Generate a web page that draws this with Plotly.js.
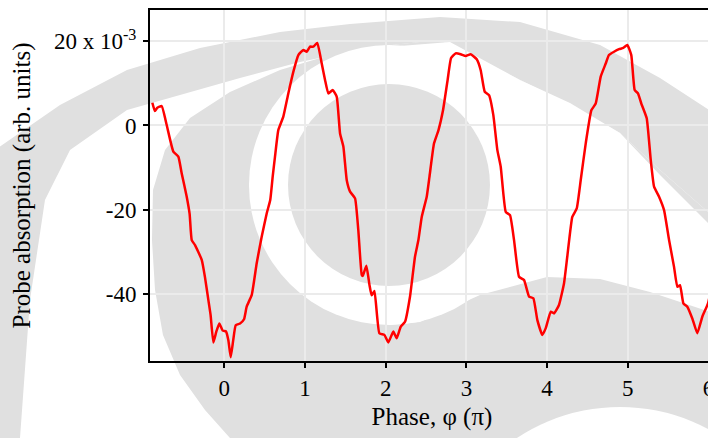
<!DOCTYPE html>
<html>
<head>
<meta charset="utf-8">
<script src="https://cdn.plot.ly/plotly-3.0.1.min.js"></script>
<style>
html,body{margin:0;padding:0;background:#fff;overflow:hidden;width:708px;height:438px;}
#chart{width:734px;height:438px;}
</style>
</head>
<body>
<div id="chart"></div>
<script>
// ---- data ----
const phase = [-0.892,-0.86,-0.83,-0.776,-0.714,-0.632,-0.57,-0.528,-0.466,-0.43,-0.404,-0.363,-0.28,-0.24,-0.198,-0.17,-0.136,-0.1,-0.062,-0.02,0.021,0.05,0.079,0.11,0.141,0.195,0.244,0.277,0.34,0.401,0.463,0.525,0.569,0.6,0.628,0.669,0.731,0.793,0.855,0.917,0.979,1.021,1.062,1.103,1.152,1.207,1.248,1.289,1.343,1.393,1.434,1.475,1.517,1.558,1.62,1.66,1.703,1.715,1.76,1.80,1.825,1.86,1.921,1.983,2.032,2.094,2.136,2.185,2.239,2.301,2.363,2.405,2.446,2.508,2.542,2.598,2.654,2.71,2.767,2.81,2.867,2.929,2.991,3.053,3.128,3.177,3.227,3.28,3.333,3.383,3.425,3.487,3.54,3.59,3.652,3.714,3.776,3.829,3.879,3.941,3.983,4.045,4.086,4.147,4.209,4.25,4.312,4.367,4.416,4.478,4.548,4.602,4.664,4.726,4.766,4.829,4.891,4.944,4.994,5.043,5.085,5.126,5.167,5.234,5.284,5.325,5.387,5.449,5.511,5.572,5.614,5.647,5.688,5.737,5.799,5.861,5.923,5.994,6.04];
const absorption = [5.4,3.4,4.2,4.6,0.1,-6.2,-7.4,-11.4,-16.9,-21,-27.2,-28.4,-31.9,-36,-41.4,-45,-51.5,-49,-47,-48.7,-48.9,-51,-55,-51,-47.4,-47,-46,-43,-40.2,-32.7,-26.4,-20.9,-17.7,-12,-7.4,-1.1,2.1,7.6,12.7,16.7,17.9,17.5,18.7,18.7,19.6,14.7,10.8,7.6,8.4,6.8,-1.9,-5,-13,-15.7,-17.3,-24.8,-35.5,-35.7,-33.3,-38,-40.3,-39.3,-49.3,-49.7,-51.5,-48.9,-50.5,-47.8,-46.6,-40.6,-31.1,-27.2,-21.7,-16.9,-12.2,-4.3,-1.1,3.6,10.8,16.0,17.1,16.9,16.5,16.9,15.7,13.1,8,7.2,2.5,-5.8,-9.8,-20.5,-21.3,-27.2,-35.9,-36.7,-40.6,-41,-46.2,-49.7,-48.1,-44.2,-44.6,-42.6,-37.5,-31.1,-21.7,-19.7,-13,-4.3,3.6,5.2,11.6,14.7,16.7,17.5,18.1,18.4,19.1,16.7,8.4,7.6,5.2,1.7,-8.2,-14.5,-16.9,-20.1,-27.2,-33.5,-38.3,-37.9,-42.2,-43,-45.8,-49.3,-45.4,-42.2,-38];
const yTickVals = [-40,-20,0,20];
const yTickText = ['-40','-20','0','20 x 10<sup>-3</sup>'];
const xTickVals = [0,1,2,3,4,5,6];
const xTickText = ['0','1','2','3','4','5','6'];

// ---- layout geometry ----
const W = 734, H = 438, ML = 150, MR = 20, MT = 10, MB = 77;
const PW = W - ML - MR, PH = H - MT - MB;
function px(x, y) { return [((x - ML) / PW).toFixed(4), ((H - MB - y) / PH).toFixed(4)]; }
function pathOf(pts) { return pts.map((p, i) => (i ? 'L' : 'M') + px(p[0], p[1]).join(',')).join(' ') + ' Z'; }
function circleOf(cx, cy, r, color) {
  const a = px(cx - r, cy + r), b = px(cx + r, cy - r);
  return {type:'circle', xref:'paper', yref:'paper', x0:a[0], y0:a[1], x1:b[0], y1:b[1],
          fillcolor:color, line:{width:0}, layer:'below'};
}
function polyOf(pts, color) {
  return {type:'path', xref:'paper', yref:'paper', path:pathOf(pts), fillcolor:color, line:{width:0}, layer:'below'};
}
const WM = '#e0e0e0';
// background watermark (decoration, pixel outline)
const wmMain = [[230,438],[205,410],[180,375],[163,335],[155,290],[152,240],[153,190],[165,150],[190,118],[230,92],[280,70],[340,52],[400,44],[440,40],[520,80],[560,100],[620,133],[660,170],[740,240],[740,438]];
const wmBand = [[-5,438],[-5,150],[60,105],[127,70],[200,48],[280,32],[350,24],[440,17],[520,22],[600,45],[660,78],[740,130],[740,240],[660,170],[620,133],[560,100],[520,80],[440,40],[373,47],[300,62],[240,78],[180,95],[127,110],[70,150],[45,200],[30,300],[20,438]];
const wmEye = [[389,185],[400,46],[450,42],[520,80],[570,103],[620,133],[660,175],[740,255],[740,322],[650,292],[600,279],[547,277],[480,295],[420,322],[389,325]];
const shapes = [
  polyOf(wmMain, WM),
  polyOf(wmBand, WM),
  circleOf(389,185,140,'#ffffff'),
  polyOf(wmEye, '#ffffff'),
  circleOf(389,185,101,WM),
  circleOf(620,594,187,'#ffffff')
];

const font = {family:'Liberation Serif, Times New Roman, serif', color:'#000'};
const trace = {x: phase, y: absorption, type:'scatter', mode:'lines',
  line:{color:'#ff0000', width:2.5, shape:'spline', smoothing:0.4}, hoverinfo:'skip', xaxis:'x', yaxis:'y'};

const xr = [-0.921, -0.921 + PW/80.7];
const yr = [-55.9, 27.4];
const layout = {
  width: W, height: H,
  margin: {l:ML, r:MR, t:MT, b:MB, pad:0},
  paper_bgcolor:'#ffffff', plot_bgcolor:'rgba(0,0,0,0)',
  showlegend:false,
  shapes: shapes,
  xaxis: {range:xr, tickvals:xTickVals, ticktext:xTickText, ticks:'outside', ticklen:5, tickwidth:2, tickcolor:'#000',
    showline:true, linewidth:2, linecolor:'#000', mirror:true, showgrid:true, gridcolor:'#ebebeb', gridwidth:2,
    zeroline:false, tickfont:Object.assign({size:23}, font), ticklabelstandoff:0,
    title:{text:'Phase, φ (π)', font:Object.assign({size:25}, font), standoff:8}},
  yaxis: {range:yr, tickvals:yTickVals, ticktext:yTickText, ticks:'outside', ticklen:5, tickwidth:2, tickcolor:'#000',
    showline:true, linewidth:2, linecolor:'#000', mirror:true, showgrid:true, gridcolor:'#ebebeb', gridwidth:2,
    zeroline:false, tickfont:Object.assign({size:23}, font), ticklabelstandoff:2,
    title:{text:'Probe absorption (arb. units)', font:Object.assign({size:25}, font), standoff:16}},
  xaxis2: {range:xr, overlaying:'x', anchor:'y2', tickvals:xTickVals, ticks:'inside', ticklen:5, tickwidth:2, tickcolor:'#000',
    showticklabels:false, showgrid:false, showline:false, zeroline:false},
  yaxis2: {range:yr, overlaying:'y', anchor:'x2', tickvals:yTickVals, ticks:'inside', ticklen:5, tickwidth:2, tickcolor:'#000',
    showticklabels:false, showgrid:false, showline:false, zeroline:false}
};
Plotly.newPlot('chart', [trace], layout, {staticPlot:true, displayModeBar:false});
</script>
</body>
</html>
